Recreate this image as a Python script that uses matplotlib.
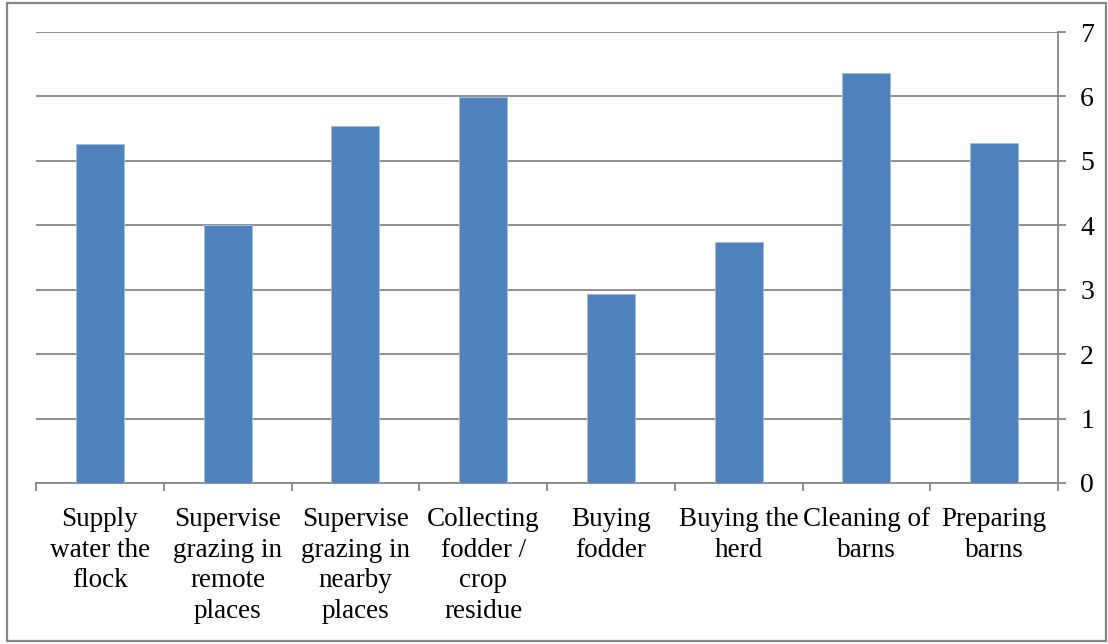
import matplotlib.pyplot as plt
from matplotlib.patches import Rectangle

categories = ['Supply\nwater the\nflock', 'Supervise\ngrazing in\nremote\nplaces',
              'Supervise\ngrazing in\nnearby\nplaces', 'Collecting\nfodder /\ncrop\nresidue',
              'Buying\nfodder', 'Buying the\nherd', 'Cleaning of\nbarns', 'Preparing\nbarns']
values = [5.26, 4.0, 5.54, 5.99, 2.93, 3.74, 6.36, 5.27]
yticks = [0, 1, 2, 3, 4, 5, 6, 7]

plt.rcParams['font.family'] = 'Liberation Serif'
grey = '#878787'

fig = plt.figure(figsize=(11.08, 6.44), dpi=100)
fig.patches.append(Rectangle((7 / 1108, 3 / 644), 1099 / 1108, 638 / 644,
                             transform=fig.transFigure, fill=False,
                             edgecolor=grey, linewidth=1.6))
ax = fig.add_axes([36 / 1108, 161 / 644, 1022 / 1108, 451 / 644])

x = list(range(len(categories)))
ax.bar(x, values, width=0.375, color='#4F81BD', edgecolor='#A3BCDD', linewidth=0.7, zorder=3)

ax.set_xlim(-0.5, len(categories) - 0.5)
ax.set_ylim(0, 7)
ax.set_yticks(yticks)
ax.yaxis.tick_right()
ax.grid(axis='y', color=grey, linewidth=1.3, zorder=0)

for s in ['top', 'left']:
    ax.spines[s].set_visible(False)
ax.spines['right'].set_color(grey)
ax.spines['bottom'].set_color(grey)
ax.spines['right'].set_linewidth(1.3)
ax.spines['bottom'].set_linewidth(1.3)

ax.set_xticks(x)
ax.set_xticklabels(categories, fontsize=19.5, linespacing=1.31)
ax.set_xticks([i - 0.5 for i in range(len(categories) + 1)], minor=True)
ax.tick_params(axis='x', which='major', length=0, pad=17)
ax.tick_params(axis='x', which='minor', length=6, width=1.3, color=grey, direction='out')
ax.tick_params(axis='y', length=6, width=1.3, color=grey, labelsize=20, pad=10)

fig.savefig('out.png', dpi=100)
